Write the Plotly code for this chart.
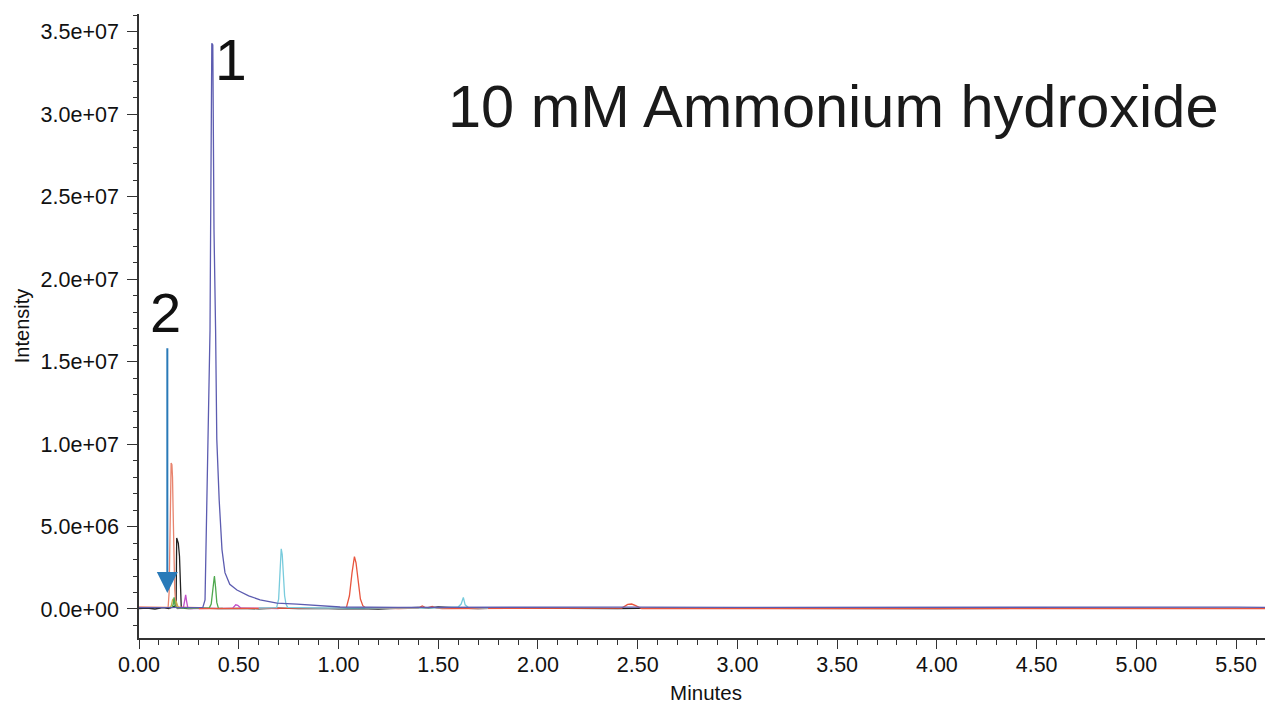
import plotly.graph_objects as go

# ---------------- data (minutes, intensity) ----------------
x_tickvals = [0.0, 0.5, 1.0, 1.5, 2.0, 2.5, 3.0, 3.5, 4.0, 4.5, 5.0, 5.5]
x_ticktext = ["0.00", "0.50", "1.00", "1.50", "2.00", "2.50", "3.00",
              "3.50", "4.00", "4.50", "5.00", "5.50"]
y_tickvals = [0, 5e6, 1e7, 1.5e7, 2e7, 2.5e7, 3e7, 3.5e7]
y_ticktext = ["0.0e+00", "5.0e+06", "1.0e+07", "1.5e+07", "2.0e+07",
              "2.5e+07", "3.0e+07", "3.5e+07"]

black_t = [0.00, 0.04, 0.08, 0.12, 0.15, 0.17, 0.186, 0.189, 0.197, 0.203, 0.208, 0.212,
           0.25, 0.30, 0.40, 0.50, 0.60, 0.70, 0.80, 0.90, 1.00, 1.10, 1.20, 1.30, 1.40,
           1.45, 1.50, 1.60, 1.70, 1.80, 2.00, 2.20, 2.40, 2.60, 3.00, 3.50, 4.00, 4.50,
           5.00, 5.50, 5.70]
black_i = [0.02e6, 0.06e6, 0.0e6, 0.08e6, 0.02e6, 0.10e6, 0.2e6, 4.3e6, 4.0e6, 3.2e6, 0.3e6, 0.05e6,
           0.03e6, 0.05e6, 0.02e6, 0.04e6, 0.01e6, 0.05e6, 0.02e6, 0.04e6, 0.01e6, 0.03e6, 0.0e6, 0.04e6, 0.10e6,
           0.05e6, 0.12e6, 0.06e6, 0.02e6, 0.05e6, 0.03e6, 0.04e6, 0.02e6, 0.05e6, 0.03e6, 0.04e6, 0.02e6, 0.04e6,
           0.03e6, 0.05e6, 0.03e6]

salmon_t = [0.00, 0.06, 0.12, 0.146, 0.151, 0.155, 0.158, 0.161, 0.165, 0.168, 0.171, 0.175,
            0.179, 0.184, 0.190, 0.25, 0.30]
salmon_i = [0.12e6, 0.10e6, 0.12e6, 0.1e6, 1.0e6, 5.0e6, 8.4e6, 8.85e6, 8.75e6, 8.0e6, 6.0e6, 3.2e6,
            1.2e6, 0.35e6, 0.12e6, 0.10e6, 0.08e6]

olive_t = [0.15, 0.162, 0.168, 0.172, 0.178, 0.185, 0.195, 0.205]
olive_i = [0.05e6, 0.2e6, 0.55e6, 0.62e6, 0.3e6, 0.5e6, 0.15e6, 0.05e6]

magenta_t = [0.19, 0.222, 0.228, 0.234, 0.239, 0.245, 0.26, 0.40, 0.47, 0.485, 0.495, 0.51, 0.60, 0.70]
magenta_i = [0.02e6, 0.05e6, 0.45e6, 0.85e6, 0.45e6, 0.05e6, 0.03e6, 0.03e6, 0.05e6, 0.25e6, 0.22e6, 0.06e6, 0.03e6, 0.03e6]

green_t = [0.165, 0.172, 0.176, 0.181, 0.19, 0.352, 0.362, 0.370, 0.378, 0.384, 0.390, 0.398, 0.42]
green_i = [0.05e6, 0.3e6, 0.7e6, 0.2e6, 0.05e6, 0.05e6, 0.3e6, 1.2e6, 2.0e6, 1.3e6, 0.4e6, 0.05e6, 0.04e6]

blue_t = [0.00, 0.27, 0.32, 0.331, 0.336, 0.340, 0.356, 0.359, 0.365, 0.370, 0.376, 0.384,
          0.390, 0.402, 0.416, 0.431, 0.455, 0.491, 0.550, 0.607, 0.692, 0.792, 0.942, 1.008, 1.30,
          1.60, 2.00, 2.50, 3.00, 3.50, 4.00, 4.50, 5.00, 5.50, 5.70]
blue_i = [0.08e6, 0.06e6, 0.10e6, 0.55e6, 3.6e6, 5.4e6, 16.9e6, 23.0e6, 34.3e6, 34.2e6, 23.0e6, 16.9e6,
          10.3e6, 6.6e6, 3.6e6, 2.2e6, 1.5e6, 1.15e6, 0.8e6, 0.55e6, 0.36e6, 0.30e6, 0.18e6, 0.12e6, 0.10e6,
          0.11e6, 0.10e6, 0.11e6, 0.10e6, 0.11e6, 0.10e6, 0.11e6, 0.10e6, 0.11e6, 0.10e6]

cyan_t = [0.60, 0.690, 0.700, 0.707, 0.713, 0.718, 0.724, 0.730, 0.737, 0.745, 0.90, 1.20,
          1.50, 1.60, 1.615, 1.626, 1.635, 1.65, 1.75]
cyan_i = [0.06e6, 0.08e6, 0.6e6, 2.5e6, 3.65e6, 3.3e6, 2.0e6, 0.8e6, 0.3e6, 0.1e6, 0.06e6, 0.06e6,
          0.07e6, 0.12e6, 0.3e6, 0.7e6, 0.25e6, 0.1e6, 0.06e6]

red_t = [0.30, 0.60, 1.00, 1.040, 1.055, 1.068, 1.080, 1.088, 1.098, 1.110, 1.122, 1.135,
         1.30, 1.40, 1.42, 1.44, 1.47, 1.49, 1.52, 2.00, 2.42, 2.45, 2.47, 2.49, 2.52,
         3.00, 3.50, 4.00, 4.50, 5.00, 5.50, 5.70]
red_i = [0.02e6, 0.03e6, 0.05e6, 0.1e6, 0.8e6, 2.2e6, 3.17e6, 2.8e6, 1.6e6, 0.6e6, 0.2e6, 0.08e6,
         0.03e6, 0.05e6, 0.18e6, 0.05e6, 0.15e6, 0.05e6, 0.02e6, 0.03e6, 0.05e6, 0.28e6, 0.3e6, 0.2e6, 0.03e6,
         0.02e6, 0.04e6, 0.02e6, 0.03e6, 0.02e6, 0.03e6, 0.02e6]

traces = [
    ("black", black_t, black_i, "#222222"),
    ("salmon", salmon_t, salmon_i, "#e8846e"),
    ("olive", olive_t, olive_i, "#c8b24a"),
    ("magenta", magenta_t, magenta_i, "#c050c8"),
    ("green", green_t, green_i, "#4ea84e"),
    ("red", red_t, red_i, "#e8553e"),
    ("cyan", cyan_t, cyan_i, "#78cbdc"),
    ("blue", blue_t, blue_i, "#5c5cb0"),
]

FONT = "Liberation Sans, Arial, Helvetica, sans-serif"

fig = go.Figure()
for name, t, i, c in traces:
    fig.add_trace(go.Scatter(x=t, y=i, mode="lines", name=name,
                             line=dict(color=c, width=1.3), showlegend=False,
                             hoverinfo="skip"))

# page body has an 8px margin, so the figure is offset by 8px in the window
fig.update_layout(
    width=1265, height=696,
    margin=dict(l=131, r=0, t=6, b=66, pad=0),
    paper_bgcolor="white", plot_bgcolor="white",
    font=dict(family=FONT, color="#111111"),
    showlegend=False,
)

fig.update_xaxes(
    range=[0, 5.685], showgrid=False, zeroline=False,
    showline=True, linecolor="#333333", linewidth=1.5,
    tickmode="array", tickvals=x_tickvals, ticktext=x_ticktext,
    ticks="outside", ticklen=9, tickwidth=1.3, tickcolor="#333333",
    ticklabelstandoff=-3,
    tickfont=dict(size=21.5, family=FONT, color="#111111"),
    minor=dict(ticks="outside", ticklen=5, tickwidth=1, tickcolor="#333333",
               tickmode="linear", tick0=0, dtick=0.1, showgrid=False),
    title=dict(text="Minutes", font=dict(size=20.5, family=FONT, color="#111111"), standoff=12),
)
fig.update_yaxes(
    range=[-1.76e6, 36.08e6], showgrid=False, zeroline=False,
    showline=True, linecolor="#333333", linewidth=1.5,
    tickmode="array", tickvals=y_tickvals, ticktext=y_ticktext,
    ticks="outside", ticklen=10, tickwidth=1.3, tickcolor="#333333",
    ticklabelstandoff=4,
    tickfont=dict(size=21.5, family=FONT, color="#111111"),
    minor=dict(ticks="outside", ticklen=4, tickwidth=1, tickcolor="#333333",
               tickmode="linear", tick0=0, dtick=1e6, showgrid=False),
    title=dict(text="Intensity", font=dict(size=20, family=FONT, color="#111111"), standoff=6),
)

fig.add_annotation(x=0.612, y=0.852, xref="paper", yref="paper",
                   text="10 mM Ammonium hydroxide", showarrow=False,
                   font=dict(size=59.5, family=FONT, color="#1a1a1a"),
                   xanchor="center", yanchor="middle")
fig.add_annotation(x=0.462, y=33.3e6, xref="x", yref="y", text="1", showarrow=False,
                   font=dict(size=57, family=FONT, color="#111111"),
                   xanchor="center", yanchor="middle")
fig.add_annotation(x=0.135, y=18.0e6, xref="x", yref="y", text="2", showarrow=False,
                   font=dict(size=56, family=FONT, color="#111111"),
                   xanchor="center", yanchor="middle")
fig.add_annotation(x=0.142, y=0.97e6, xref="x", yref="y",
                   ax=0.142, ay=15.9e6, axref="x", ayref="y",
                   text="", showarrow=True, arrowhead=2, arrowsize=2.1,
                   arrowwidth=2, arrowcolor="#2a7ab8")

fig.write_html("out.html")
